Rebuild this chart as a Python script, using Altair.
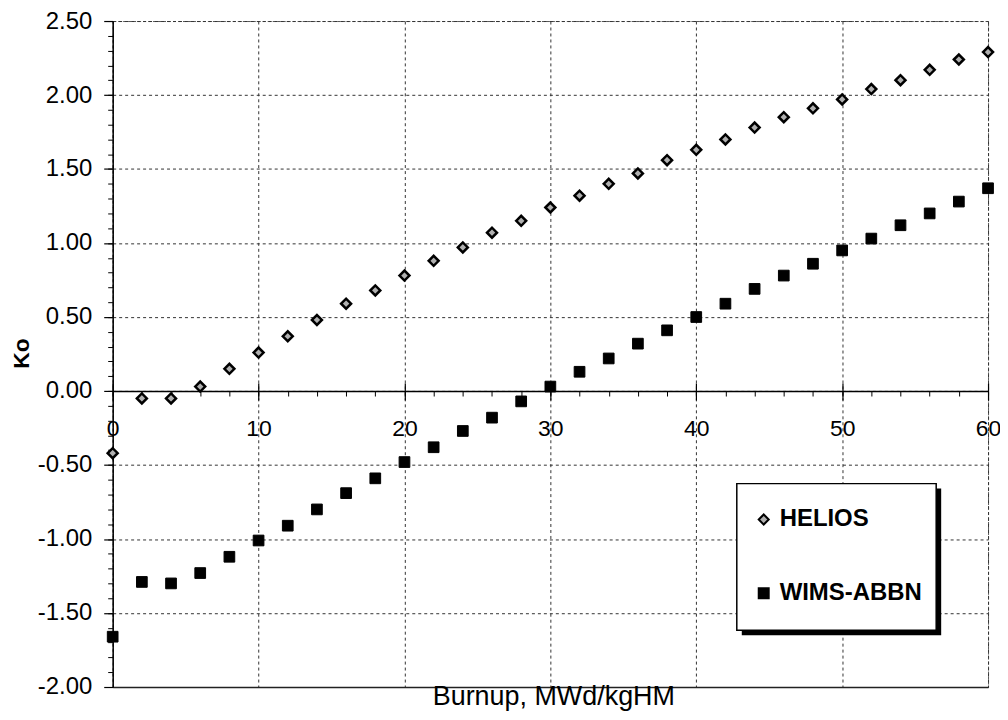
import altair as alt
import pandas as pd

# ---- data ----
burnup = list(range(0, 61, 2))
helios = [-0.42, -0.05, -0.05, 0.03, 0.15, 0.26, 0.37, 0.48, 0.59, 0.68,
          0.78, 0.88, 0.97, 1.07, 1.15, 1.24, 1.32, 1.40, 1.47, 1.56,
          1.63, 1.70, 1.78, 1.85, 1.91, 1.97, 2.04, 2.10, 2.17, 2.24, 2.29]
wims = [-1.66, -1.29, -1.30, -1.23, -1.12, -1.01, -0.91, -0.80, -0.69, -0.59,
        -0.48, -0.38, -0.27, -0.18, -0.07, 0.03, 0.13, 0.22, 0.32, 0.41,
        0.50, 0.59, 0.69, 0.78, 0.86, 0.95, 1.03, 1.12, 1.20, 1.28, 1.37]
series_names = ["HELIOS", "WIMS-ABBN"]
y_major = [-2.0, -1.5, -1.0, -0.5, 0.0, 0.5, 1.0, 1.5, 2.0, 2.5]
y_minor = [round(-2.0 + 0.1 * i, 1) for i in range(46)]
x_major = [0, 10, 20, 30, 40, 50, 60]
x_minor = list(range(0, 61, 2))

# ---- layout constants ----
W, H = 878, 668
Y_MIN, Y_MAX = -2.0, 2.5
ZERO_OFFSET = -(0 - Y_MIN) / (Y_MAX - Y_MIN) * H
FONT = "Liberation Sans"
BOX = dict(x=626, y=464, w=200, h=147)
SHADOW = 5

df_h = pd.DataFrame({"burnup": burnup, "ko": helios, "series": "HELIOS"})
df_w = pd.DataFrame({"burnup": burnup, "ko": wims, "series": "WIMS-ABBN"})

xscale = alt.Scale(domain=[0, 60], nice=False, zero=False)
yscale = alt.Scale(domain=[Y_MIN, Y_MAX], nice=False, zero=False)

legend = alt.Legend(
    title=None, orient="none", legendX=BOX["x"] + 15, legendY=BOX["y"] + 24,
    padding=0, labelFont=FONT, labelFontSize=24, labelFontWeight="bold",
    labelColor="black", rowPadding=50, labelOffset=4, symbolSize=100,
    symbolStrokeColor="black", symbolStrokeWidth=2,
)
color = alt.Color("series:N", scale=alt.Scale(domain=series_names, range=["#b0b0b0", "black"]), legend=legend)
shape = alt.Shape("series:N", scale=alt.Scale(domain=series_names, range=["diamond", "square"]), legend=legend)

grid_style = dict(grid=True, gridColor="#333", gridDash=[3, 3], gridWidth=1)

one = pd.DataFrame({"a": [0]})
shadow = alt.Chart(one).mark_rect(color="black").encode(
    x=alt.value(BOX["x"] + SHADOW), x2=alt.value(BOX["x"] + BOX["w"] + SHADOW),
    y=alt.value(BOX["y"] + SHADOW), y2=alt.value(BOX["y"] + BOX["h"] + SHADOW),
)
box = alt.Chart(one).mark_rect(fill="white", stroke="black", strokeWidth=1.5).encode(
    x=alt.value(BOX["x"]), x2=alt.value(BOX["x"] + BOX["w"]),
    y=alt.value(BOX["y"]), y2=alt.value(BOX["y"] + BOX["h"]),
)

wims_layer = alt.Chart(df_w).mark_point(filled=True, stroke="black", strokeWidth=1, size=115, opacity=1).encode(
    x=alt.X("burnup:Q", scale=xscale, axis=alt.Axis(
        orient="bottom", labels=False, ticks=False, domain=True, domainColor="#222", domainWidth=1.5,
        values=x_major, title="Burnup, MWd/kgHM", titleFont=FONT, titleFontSize=27,
        titleFontWeight="normal", titleColor="black", titleX=442, titleY=10,
        titleBaseline="middle", titleAlign="center", **grid_style)),
    y=alt.Y("ko:Q", scale=yscale, axis=alt.Axis(
        orient="left", values=y_major, format=".2f", labelExpr="replace(datum.label, '\u2212', '-')",
        tickSize=9, tickColor="black", tickWidth=1.2,
        domainColor="black", domainWidth=1.5, labelFont=FONT, labelFontSize=24, labelColor="black",
        labelPadding=12, title="Ko", titleFont=FONT, titleFontSize=23, titleFontWeight="bold",
        titleColor="black", titleX=-91, titleY=333, titleAngle=270, titleBaseline="middle",
        titleAlign="center", **grid_style)),
    color=color, shape=shape,
)

helios_layer = alt.Chart(df_h).mark_point(filled=True, stroke="black", strokeWidth=2.5, size=100, opacity=1).encode(
    x=alt.X("burnup:Q", scale=xscale, axis=alt.Axis(
        orient="bottom", offset=ZERO_OFFSET, values=x_minor, ticks=True, tickSize=5, tickColor="black",
        tickWidth=1, domain=True, domainColor="black", domainWidth=1.5, grid=False, title=None,
        labelExpr="datum.value % 10 == 0 ? datum.label : ''", labelFont=FONT, labelFontSize=23,
        labelColor="black", labelPadding=22, labelFlush=False, labelOverlap=False)),
    y=alt.Y("ko:Q", scale=yscale, axis=alt.Axis(
        orient="left", values=y_minor, ticks=True, tickSize=5, tickColor="black", tickWidth=1,
        labels=False, domain=False, grid=False, title=None)),
    color=color, shape=shape,
)

tick_layer = alt.Chart(df_h).mark_point(opacity=0).encode(
    x=alt.X("burnup:Q", scale=xscale, axis=alt.Axis(
        orient="bottom", offset=ZERO_OFFSET - 8, values=x_major, tickSize=17, tickColor="black",
        tickWidth=1.2, domain=False, labels=False, grid=False, title=None)),
    y=alt.Y("ko:Q", scale=yscale, axis=None),
)

chart = alt.layer(shadow, box, wims_layer, helios_layer, tick_layer).resolve_axis(
    x="independent", y="independent"
).properties(
    width=W, height=H, autosize=alt.AutoSizeParams(type="none"),
    padding={"left": 105, "top": 12, "right": 12, "bottom": 24}, background="white",
).configure_view(stroke="#555", strokeDash=[3, 2], strokeWidth=1)

chart.save("out.html", embed_options={"renderer": "svg", "actions": False})
